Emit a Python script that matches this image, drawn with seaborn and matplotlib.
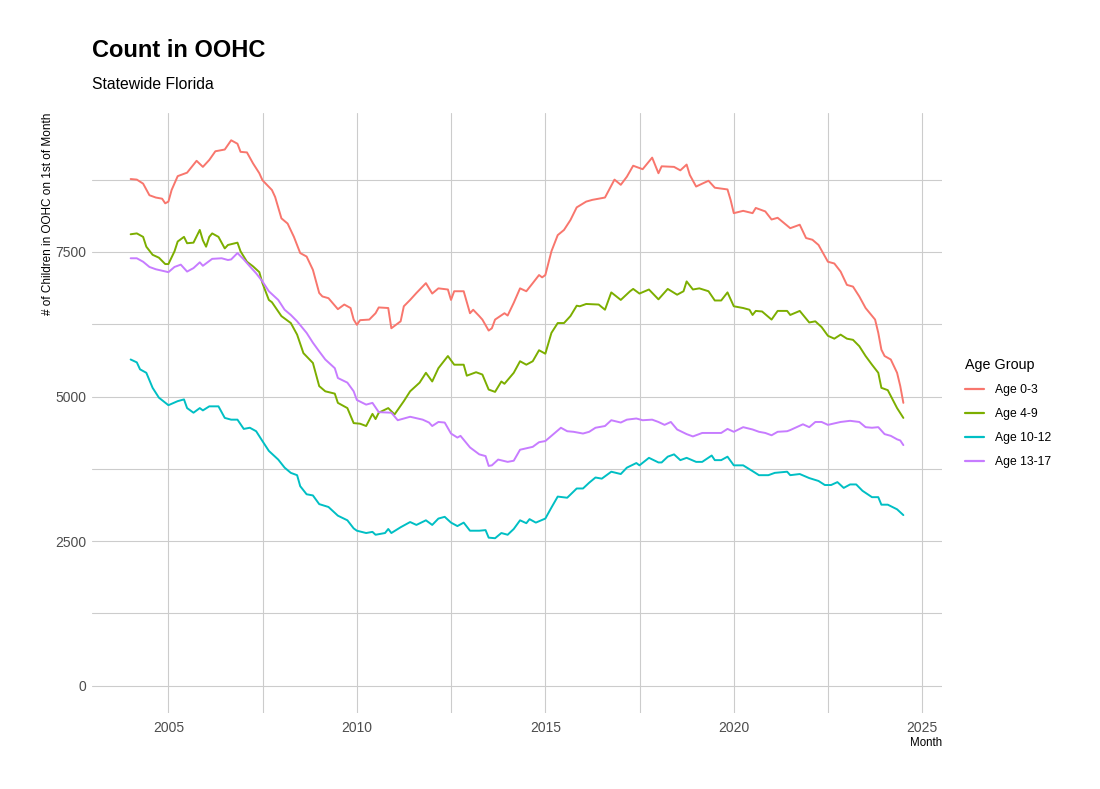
import seaborn as sns
import matplotlib.pyplot as plt
import matplotlib.dates as mdates
import pandas as pd

# readings, month -> children in OOHC
months_0_3 = ["2004-01", "2004-03", "2004-05", "2004-07", "2004-09", "2004-11", "2004-12",
              "2005-01", "2005-02", "2005-04", "2005-07", "2005-10", "2005-12",
              "2006-02", "2006-04", "2006-07", "2006-09", "2006-11", "2006-12",
              "2007-02", "2007-04", "2007-06", "2007-07", "2007-10", "2007-11",
              "2008-01", "2008-03", "2008-05", "2008-07", "2008-09", "2008-11",
              "2009-01", "2009-02", "2009-04", "2009-07", "2009-09", "2009-11", "2009-12",
              "2010-01", "2010-02", "2010-05", "2010-07", "2010-08", "2010-11", "2010-12",
              "2011-03", "2011-04", "2011-06", "2011-08", "2011-11",
              "2012-01", "2012-03", "2012-06", "2012-07", "2012-08", "2012-11",
              "2013-01", "2013-02", "2013-04", "2013-05", "2013-07", "2013-08", "2013-09", "2013-12",
              "2014-01", "2014-03", "2014-05", "2014-07", "2014-09", "2014-11", "2014-12",
              "2015-01", "2015-03", "2015-05", "2015-07", "2015-09", "2015-11",
              "2016-02", "2016-04", "2016-08", "2016-11",
              "2017-01", "2017-03", "2017-05", "2017-08", "2017-11",
              "2018-01", "2018-02", "2018-06", "2018-08", "2018-10", "2018-11",
              "2019-01", "2019-03", "2019-05", "2019-07", "2019-11", "2019-12",
              "2020-01", "2020-04", "2020-07", "2020-08", "2020-11",
              "2021-01", "2021-03", "2021-07", "2021-10", "2021-12",
              "2022-02", "2022-04", "2022-07", "2022-09", "2022-11",
              "2023-01", "2023-03", "2023-05", "2023-07", "2023-10", "2023-11", "2023-12",
              "2024-01", "2024-03", "2024-05", "2024-06", "2024-07"]
count_0_3 = [8760, 8750, 8680, 8480, 8440, 8420, 8340,
             8370, 8570, 8810, 8870, 9075, 8970,
             9090, 9240, 9270, 9430, 9370, 9230,
             9220, 9030, 8860, 8740, 8570, 8450,
             8080, 7990, 7760, 7480, 7420, 7190,
             6790, 6730, 6700, 6510, 6590, 6530, 6330,
             6240, 6320, 6330, 6440, 6540, 6530, 6180,
             6300, 6560, 6670, 6790, 6960,
             6780, 6870, 6850, 6670, 6820, 6820,
             6440, 6500, 6390, 6330, 6140, 6180, 6330, 6440,
             6400, 6620, 6870, 6820, 6960, 7100, 7060,
             7100, 7510, 7790, 7880, 8050, 8270,
             8370, 8400, 8440, 8750,
             8660, 8800, 8990, 8930, 9130,
             8860, 8980, 8970, 8910, 9010, 8830,
             8630, 8680, 8730, 8610, 8580, 8400,
             8170, 8210, 8170, 8260, 8200,
             8060, 8090, 7910, 7970, 7740,
             7710, 7620, 7330, 7300, 7160,
             6930, 6900, 6730, 6530, 6330, 6100, 5810,
             5700, 5640, 5410, 5180, 4890]

months_4_9 = ["2004-01", "2004-03", "2004-05", "2004-06", "2004-08", "2004-10", "2004-12",
              "2005-01", "2005-03", "2005-04", "2005-06", "2005-07", "2005-09", "2005-11", "2005-12",
              "2006-01", "2006-02", "2006-03", "2006-05", "2006-07", "2006-08", "2006-11", "2006-12",
              "2007-02", "2007-04", "2007-06", "2007-07", "2007-09", "2007-10",
              "2008-01", "2008-04", "2008-06", "2008-08", "2008-11",
              "2009-01", "2009-03", "2009-06", "2009-07", "2009-10", "2009-12",
              "2010-02", "2010-04", "2010-06", "2010-07", "2010-08", "2010-11",
              "2011-01", "2011-04", "2011-06", "2011-09", "2011-11",
              "2012-01", "2012-03", "2012-06", "2012-08", "2012-11", "2012-12",
              "2013-03", "2013-05", "2013-07", "2013-09", "2013-11", "2013-12",
              "2014-03", "2014-05", "2014-07", "2014-09", "2014-11",
              "2015-01", "2015-03", "2015-05", "2015-07", "2015-09", "2015-11", "2015-12",
              "2016-02", "2016-06", "2016-08", "2016-10",
              "2017-01", "2017-04", "2017-05", "2017-07", "2017-10",
              "2018-01", "2018-04", "2018-07", "2018-09", "2018-10", "2018-12",
              "2019-02", "2019-05", "2019-07", "2019-09", "2019-11",
              "2020-01", "2020-04", "2020-06", "2020-07", "2020-08", "2020-10",
              "2021-01", "2021-03", "2021-06", "2021-07", "2021-10",
              "2022-01", "2022-03", "2022-05", "2022-07", "2022-09", "2022-11",
              "2023-01", "2023-03", "2023-05", "2023-07", "2023-09", "2023-11", "2023-12",
              "2024-02", "2024-03", "2024-05", "2024-07"]
count_4_9 = [7805, 7820, 7760, 7590, 7450, 7400, 7290,
             7290, 7510, 7680, 7760, 7650, 7660, 7880, 7700,
             7590, 7760, 7820, 7760, 7560, 7620, 7660, 7510,
             7330, 7250, 7150, 6960, 6670, 6630,
             6390, 6270, 6070, 5750, 5580,
             5180, 5090, 5050, 4890, 4800, 4540,
             4530, 4490, 4700, 4610, 4720, 4800,
             4690, 4920, 5090, 5240, 5410,
             5260, 5490, 5700, 5550, 5550, 5360,
             5420, 5380, 5120, 5080, 5260, 5220,
             5410, 5610, 5550, 5610, 5800,
             5740, 6100, 6270, 6270, 6390, 6570, 6560,
             6600, 6590, 6500, 6800,
             6670, 6820, 6860, 6780, 6850,
             6680, 6860, 6760, 6820, 6990, 6850,
             6870, 6820, 6660, 6660, 6800,
             6560, 6530, 6500, 6410, 6480, 6470,
             6330, 6480, 6480, 6410, 6480,
             6280, 6300, 6200, 6050, 6000, 6070,
             6000, 5980, 5870, 5700, 5550, 5410, 5150,
             5110, 5010, 4800, 4630]

months_10_12 = ["2004-01", "2004-03", "2004-04", "2004-06", "2004-08", "2004-10",
                "2005-01", "2005-04", "2005-06", "2005-07", "2005-09", "2005-11", "2005-12",
                "2006-02", "2006-05", "2006-07", "2006-09", "2006-11",
                "2007-01", "2007-03", "2007-05", "2007-07", "2007-09", "2007-12",
                "2008-02", "2008-04", "2008-06", "2008-07", "2008-09", "2008-11",
                "2009-01", "2009-04", "2009-07", "2009-10", "2009-12",
                "2010-01", "2010-04", "2010-06", "2010-07", "2010-10", "2010-11", "2010-12",
                "2011-03", "2011-06", "2011-08", "2011-11",
                "2012-01", "2012-03", "2012-05", "2012-07", "2012-09", "2012-11",
                "2013-01", "2013-04", "2013-06", "2013-07", "2013-09", "2013-11",
                "2014-01", "2014-03", "2014-05", "2014-07", "2014-08", "2014-10",
                "2015-01", "2015-03", "2015-05", "2015-08", "2015-11",
                "2016-01", "2016-03", "2016-05", "2016-07", "2016-10",
                "2017-01", "2017-03", "2017-06", "2017-07", "2017-10",
                "2018-01", "2018-02", "2018-04", "2018-06", "2018-08", "2018-10",
                "2019-01", "2019-03", "2019-06", "2019-07", "2019-09", "2019-11",
                "2020-01", "2020-04", "2020-07", "2020-09", "2020-12",
                "2021-02", "2021-06", "2021-07", "2021-10",
                "2022-01", "2022-04", "2022-06", "2022-08", "2022-10", "2022-12",
                "2023-02", "2023-04", "2023-06", "2023-09", "2023-11", "2023-12",
                "2024-02", "2024-05", "2024-07"]
count_10_12 = [5640, 5590, 5470, 5410, 5150, 4980,
               4850, 4920, 4950, 4800, 4720, 4800, 4760,
               4830, 4830, 4630, 4600, 4600,
               4440, 4460, 4400, 4230, 4060, 3910,
               3770, 3680, 3640, 3450, 3310, 3290,
               3140, 3090, 2940, 2860, 2720,
               2680, 2640, 2660, 2610, 2640, 2710, 2640,
               2740, 2830, 2780, 2860,
               2780, 2890, 2920, 2820, 2760, 2820,
               2680, 2680, 2690, 2560, 2550, 2640,
               2610, 2710, 2860, 2810, 2880, 2820,
               2890, 3080, 3270, 3250, 3410,
               3410, 3510, 3600, 3580, 3700,
               3660, 3770, 3850, 3810, 3940,
               3860, 3860, 3960, 4000, 3900, 3940,
               3870, 3870, 3980, 3900, 3900, 3960,
               3810, 3810, 3710, 3640, 3640,
               3680, 3700, 3640, 3660,
               3590, 3540, 3470, 3470, 3520, 3420,
               3480, 3480, 3370, 3260, 3260, 3130,
               3130, 3050, 2950]

months_13_17 = ["2004-01", "2004-03", "2004-05", "2004-07", "2004-09",
                "2005-01", "2005-03", "2005-05", "2005-07", "2005-09", "2005-11", "2005-12",
                "2006-03", "2006-06", "2006-08", "2006-09", "2006-11",
                "2007-01", "2007-03", "2007-05", "2007-07", "2007-09", "2007-12",
                "2008-02", "2008-04", "2008-06", "2008-09", "2008-11",
                "2009-01", "2009-03", "2009-06", "2009-07", "2009-10", "2009-12",
                "2010-01", "2010-04", "2010-06", "2010-08", "2010-12",
                "2011-02", "2011-06", "2011-10", "2011-12",
                "2012-01", "2012-03", "2012-05", "2012-07", "2012-09", "2012-10",
                "2013-01", "2013-04", "2013-06", "2013-07", "2013-08", "2013-10",
                "2014-01", "2014-03", "2014-05", "2014-09", "2014-11",
                "2015-01", "2015-03", "2015-06", "2015-08", "2015-10",
                "2016-01", "2016-03", "2016-05", "2016-08", "2016-10",
                "2017-01", "2017-03", "2017-06", "2017-08", "2017-11",
                "2018-01", "2018-03", "2018-05", "2018-07", "2018-10", "2018-12",
                "2019-03", "2019-06", "2019-09", "2019-11",
                "2020-01", "2020-04", "2020-07", "2020-09", "2020-11",
                "2021-01", "2021-03", "2021-06", "2021-07", "2021-11",
                "2022-01", "2022-03", "2022-05", "2022-07", "2022-11",
                "2023-02", "2023-05", "2023-07", "2023-09", "2023-11",
                "2024-01", "2024-03", "2024-05", "2024-06", "2024-07"]
count_13_17 = [7390, 7390, 7330, 7240, 7200,
               7150, 7240, 7280, 7160, 7220, 7320, 7260,
               7380, 7390, 7360, 7370, 7480,
               7370, 7250, 7130, 6990, 6820, 6670,
               6500, 6410, 6300, 6100, 5930,
               5780, 5640, 5490, 5320, 5240, 5090,
               4940, 4860, 4890, 4730, 4720,
               4590, 4650, 4600, 4550,
               4490, 4560, 4550, 4360, 4290, 4320,
               4120, 4000, 3970, 3800, 3810, 3910,
               3870, 3890, 4080, 4130, 4210,
               4230, 4320, 4460, 4400, 4390,
               4360, 4390, 4460, 4490, 4590,
               4550, 4600, 4620, 4590, 4600,
               4560, 4510, 4560, 4430, 4350, 4310,
               4370, 4370, 4370, 4440,
               4390, 4470, 4430, 4390, 4370,
               4330, 4390, 4400, 4420, 4520,
               4470, 4560, 4560, 4510, 4560,
               4580, 4560, 4470, 4460, 4470,
               4350, 4320, 4260, 4240, 4160]

groups = ["Age 0-3", "Age 4-9", "Age 10-12", "Age 13-17"]
colors = ["#F8766D", "#7CAE00", "#00BFC4", "#C77CFF"]
year_ticks = [2005, 2010, 2015, 2020, 2025]
count_ticks = [0, 2500, 5000, 7500]

frames = []
for g, m, c in zip(groups,
                   [months_0_3, months_4_9, months_10_12, months_13_17],
                   [count_0_3, count_4_9, count_10_12, count_13_17]):
    frames.append(pd.DataFrame({"Month": pd.to_datetime(m), "Count": c, "Age Group": g}))
df = pd.concat(frames, ignore_index=True)

sns.set_theme(style="white")
plt.rcParams["font.family"] = ["Liberation Sans", "DejaVu Sans"]
plt.rcParams["text.color"] = "black"
plt.rcParams["axes.labelcolor"] = "black"

fig = plt.figure(figsize=(11, 7.89), dpi=100)
ax = fig.add_axes([92 / 1100, 1 - 713 / 789, 850 / 1100, 600 / 789])

sns.lineplot(data=df, x="Month", y="Count", hue="Age Group", hue_order=groups,
             palette=colors, linewidth=1.4, ax=ax)

# ggplot style expansion (5%), y scale includes 0
lo = mdates.date2num(df["Month"].min())
hi = mdates.date2num(df["Month"].max())
ax.set_xlim(lo - 0.05 * (hi - lo), hi + 0.05 * (hi - lo))
ymax = df["Count"].max()
ax.set_ylim(-0.05 * ymax, ymax * 1.05)

ax.set_xticks([mdates.date2num(pd.Timestamp(f"{y}-01-01")) for y in year_ticks])
ax.set_xticklabels([str(y) for y in year_ticks])
ax.set_xticks([mdates.date2num(pd.Timestamp(f"{y}-07-02")) for y in [2007, 2012, 2017, 2022]],
              minor=True)
ax.set_yticks(count_ticks)
ax.set_yticklabels([str(v) for v in count_ticks])
ax.set_yticks([1250, 3750, 6250, 8750], minor=True)

ax.grid(True, which="both", color="#CCCCCC", linewidth=0.8)
ax.set_axisbelow(True)
for s in ax.spines.values():
    s.set_visible(False)
ax.tick_params(which="both", length=0, labelsize=10, colors="#4D4D4D")
ax.tick_params(axis="x", pad=6)
ax.tick_params(axis="y", pad=4)

ax.set_xlabel("Month", loc="right", fontsize=8.3)
ax.xaxis.set_label_coords(1.0, -0.04)
ax.set_ylabel("# of Children in OOHC on 1st of Month", loc="top", fontsize=8.5)
ax.yaxis.set_label_coords(-0.045, 1.0)

leg = ax.legend(title="Age Group", loc="center left", bbox_to_anchor=(1.027, 0.5),
                frameon=False, fontsize=8.7, title_fontsize=10.3, borderaxespad=0,
                borderpad=0, handlelength=1.6, handletextpad=0.9, labelspacing=1.0,
                alignment="left")
for line in leg.get_lines():
    line.set_linewidth(1.6)

fig.text(92 / 1100, 1 - 57 / 789, "Count in OOHC", fontsize=17, fontweight="bold",
         va="baseline", ha="left")
fig.text(92 / 1100, 1 - 89 / 789, "Statewide Florida", fontsize=11.3, va="baseline", ha="left")

fig.savefig("out.png", dpi=100)
